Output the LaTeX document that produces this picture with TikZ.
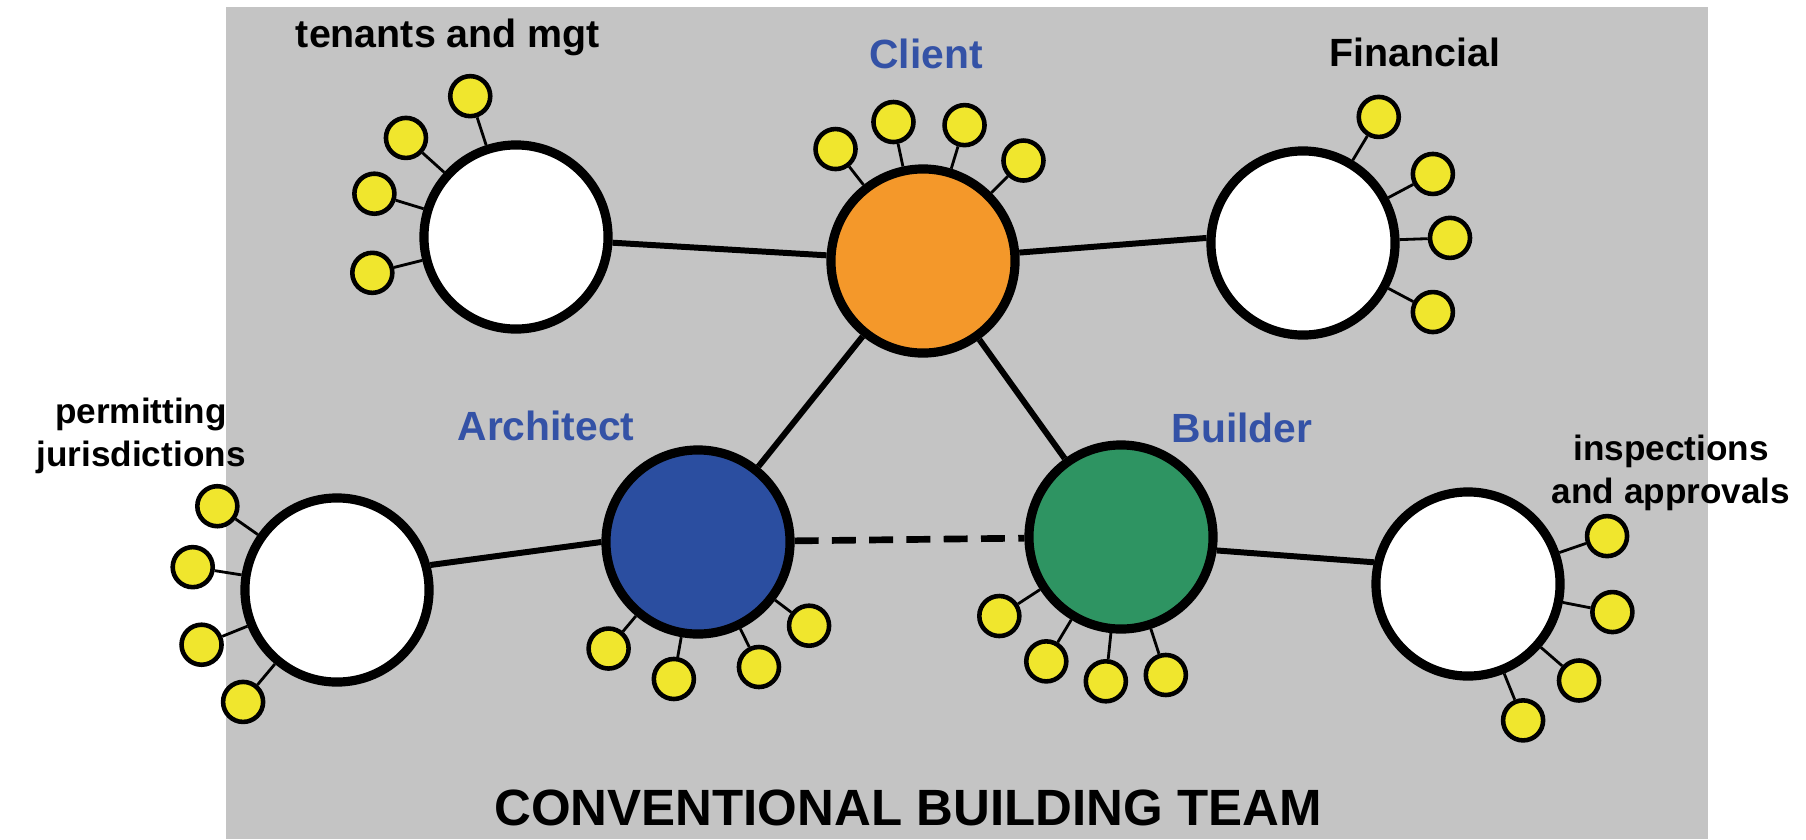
\documentclass[tikz,border=0pt]{standalone}
\usepackage{fontspec}
\setmainfont{Liberation Sans}
\usetikzlibrary{calc}

\definecolor{bggray}{RGB}{196,196,196}
\definecolor{clientorange}{RGB}{244,152,42}
\definecolor{archblue}{RGB}{43,78,160}
\definecolor{buildgreen}{RGB}{46,148,98}
\definecolor{satyellow}{RGB}{240,230,45}
\definecolor{lblblue}{RGB}{52,82,166}

\tikzset{
  hub/.style = {circle, draw, line width=2.6pt, minimum size=1.84cm, inner sep=0pt},
  sat/.style = {circle, draw, fill=satyellow, line width=1.3pt, minimum size=0.40cm, inner sep=0pt},
  link/.style = {line width=1.7pt},
  stem/.style = {line width=0.8pt},
  party/.style = {font=\bfseries\fontsize{11.2}{13}\selectfont},
  role/.style = {font=\bfseries\fontsize{11.6}{13}\selectfont, text=lblblue},
  side/.style = {font=\bfseries\fontsize{10}{12.4}\selectfont, align=center}
}

\begin{document}
\begin{tikzpicture}[x=0.01cm, y=-0.01cm]
    \useasboundingbox (0,0) rectangle (1806,839);
    \fill[bggray] (226,7) rectangle (1708,839);

    % the team
    \node[hub, fill=clientorange] (client) at (923,261) {};
    \node[hub, fill=archblue] (architect) at (698,542) {};
    \node[hub, fill=buildgreen] (builder) at (1121,537) {};
    \node[hub, fill=white] (tenants) at (516,237) {};
    \node[hub, fill=white] (financial) at (1303,243) {};
    \node[hub, fill=white] (permits) at (337,590) {};
    \node[hub, fill=white] (inspect) at (1468,584) {};

    \draw[link] (tenants) -- (client);
    \draw[link] (client.5) -- (financial.177);
    \draw[link] (client) -- (architect);
    \draw[link] (client) -- (builder);
    \draw[link, line width=1.9pt, dash pattern=on 6.8pt off 3.8pt] (architect) -- (builder);
    \draw[link] (permits.15) -- (architect.180);
    \draw[link] (builder.-8) -- (inspect.167);

    % satellites
    \foreach \a [count=\i] in {108,138,163,194}
        \node[sat] (tenants\i) at ($(tenants)+(\a:1.48cm)$) {} edge[stem] (tenants);
    \foreach \a [count=\i] in {128,102,73,45}
        \node[sat] (client\i) at ($(client)+(\a:1.42cm)$) {} edge[stem] (client);
    \foreach \a [count=\i] in {59,28,2,-28}
        \node[sat] (financial\i) at ($(financial)+(\a:1.47cm)$) {} edge[stem] (financial);
    \foreach \a [count=\i] in {145,171,202,230}
        \node[sat] (permits\i) at ($(permits)+(\a:1.46cm)$) {} edge[stem] (permits);
    \foreach \a [count=\i] in {230,260,296,323}
        \node[sat] (architect\i) at ($(architect)+(\a:1.39cm)$) {} edge[stem] (architect);
    \foreach \a [count=\i] in {213,239,264,288}
        \node[sat] (builder\i) at ($(builder)+(\a:1.45cm)$) {} edge[stem] (builder);
    \foreach \a [count=\i] in {19,-11,-41,-68}
        \node[sat] (inspect\i) at ($(inspect)+(\a:1.47cm)$) {} edge[stem] (inspect);

    % labels
    \node[party] (tenantslbl) at (448,37) {tenants and mgt};
    \node[role] (clientlbl) at (926,54) {Client};
    \node[party] (financiallbl) at (1415,52) {Financial};
    \node[role] (architectlbl) at (546,426) {Architect};
    \node[role] (builderlbl) at (1242,428) {Builder};
    \node[side] (permitslbl) at (141,436) {permitting\\jurisdictions};
    \node[side] (inspectlbl) at (1671,473) {inspections\\and approvals};
    \node[font=\bfseries\fontsize{14.5}{16}\selectfont] (title) at (908,808) {CONVENTIONAL BUILDING TEAM};
\end{tikzpicture}
\end{document}
